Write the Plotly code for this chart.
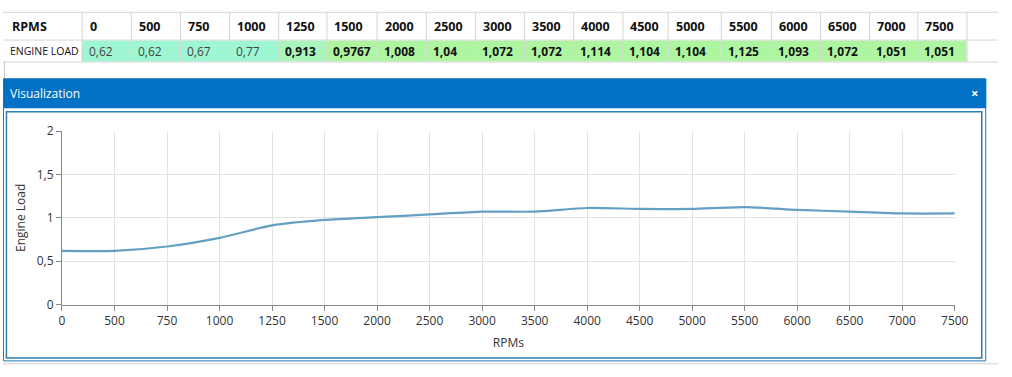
import plotly.graph_objects as go

# ---------------- data ----------------
rpms = [0, 500, 750, 1000, 1250, 1500, 2000, 2500, 3000, 3500,
        4000, 4500, 5000, 5500, 6000, 6500, 7000, 7500]
engine_load = [0.62, 0.62, 0.67, 0.77, 0.913, 0.9767, 1.008, 1.04, 1.072, 1.072,
               1.114, 1.104, 1.104, 1.125, 1.093, 1.072, 1.051, 1.051]
row_header = "RPMS"
row_label = "ENGINE LOAD"
panel_title = "Visualization"
x_title = "RPMs"
y_title = "Engine Load"

# ---------------- layout helpers ----------------
W, H = 1012, 377
FONT = "Segoe UI, Open Sans, sans-serif"


def px(x):
    return x / W


def py(y):
    return 1 - y / H


col_edges = [0, 80, 130, 180, 230, 280, 329, 380, 430, 480, 530, 580, 630,
             676, 730, 781, 831, 881, 930, 980, 1012]
row_top, row_mid, row_bot = 3, 32, 55

shapes = []
annotations = []


def fill_for(v):
    if v < 0.8:
        return "#9ef6d3"
    if v < 0.95:
        return "#a8f6bb"
    return "#adf5a1"


# cell fills
for i, v in enumerate(engine_load):
    x0, x1 = col_edges[i + 1], col_edges[i + 2]
    shapes.append(dict(type="rect", xref="paper", yref="paper",
                       x0=px(x0), x1=px(x1), y0=py(row_bot), y1=py(row_mid + 1),
                       fillcolor=fill_for(v), line=dict(width=0), layer="below"))

# table grid lines
for yy in (row_top, row_mid, row_bot):
    shapes.append(dict(type="line", xref="paper", yref="paper",
                       x0=0, x1=1, y0=py(yy + 0.5), y1=py(yy + 0.5),
                       line=dict(color="#d6d6d6", width=1)))
for xe in col_edges[1:-1]:
    shapes.append(dict(type="line", xref="paper", yref="paper",
                       x0=px(xe + 0.5), x1=px(xe + 0.5), y0=py(row_top), y1=py(row_bot),
                       line=dict(color="#d6d6d6", width=1)))
shapes.append(dict(type="line", xref="paper", yref="paper",
                   x0=px(1.5), x1=px(1.5), y0=py(row_bot), y1=py(73),
                   line=dict(color="#c8c8c8", width=1)))

# table text
annotations.append(dict(xref="paper", yref="paper", x=px(7), y=py(18),
                        text="<b>" + row_header + "</b>", showarrow=False,
                        xanchor="left", yanchor="middle",
                        font=dict(family=FONT, size=12.5, color="#111")))
annotations.append(dict(xref="paper", yref="paper", x=px(5), y=py(44),
                        text=row_label, showarrow=False,
                        xanchor="left", yanchor="middle",
                        font=dict(family=FONT, size=10.5, color="#111")))
for i, (r, v) in enumerate(zip(rpms, engine_load)):
    x0 = col_edges[i + 1] + 6
    annotations.append(dict(xref="paper", yref="paper", x=px(x0), y=py(18),
                            text="<b>" + str(r) + "</b>", showarrow=False,
                            xanchor="left", yanchor="middle",
                            font=dict(family=FONT, size=12.5, color="#111")))
    s = str(v).replace(".", ",")
    if v >= 0.9:
        s = "<b>" + s + "</b>"
        col = "#111"
    else:
        col = "#444"
    annotations.append(dict(xref="paper", yref="paper", x=px(x0 - 1), y=py(44),
                            text=s, showarrow=False,
                            xanchor="left", yanchor="middle",
                            font=dict(family=FONT, size=12, color=col)))

# panel
shapes.append(dict(type="rect", xref="paper", yref="paper",
                   x0=px(0), x1=px(1000), y0=py(104), y1=py(73),
                   fillcolor="#0071c5", line=dict(width=0)))
shapes.append(dict(type="rect", xref="paper", yref="paper",
                   x0=px(0.5), x1=px(999.5), y0=py(368.5), y1=py(73),
                   fillcolor="rgba(0,0,0,0)", line=dict(color="#1f78b4", width=1)))
shapes.append(dict(type="rect", xref="paper", yref="paper",
                   x0=px(3.5), x1=px(995.5), y0=py(365.5), y1=py(107.5),
                   fillcolor="rgba(0,0,0,0)", line=dict(color="#2a7fae", width=1.5)))
shapes.append(dict(type="line", xref="paper", yref="paper",
                   x0=px(0), x1=px(1012), y0=py(371.5), y1=py(371.5),
                   line=dict(color="#d0d0d0", width=1)))
annotations.append(dict(xref="paper", yref="paper", x=px(5), y=py(89),
                        text=panel_title, showarrow=False,
                        xanchor="left", yanchor="middle",
                        font=dict(family=FONT, size=12, color="white")))
annotations.append(dict(xref="paper", yref="paper", x=px(988), y=py(88),
                        text="<b>×</b>", showarrow=False,
                        xanchor="center", yanchor="middle",
                        font=dict(family=FONT, size=13, color="white")))

# ---------------- figure ----------------
fig = go.Figure()
fig.add_trace(go.Scatter(
    x=[str(r) for r in rpms], y=engine_load, mode="lines",
    line=dict(color="#649fc4", width=2.2, shape="spline", smoothing=0.6),
    hoverinfo="skip", showlegend=False))

fig.update_layout(
    autosize=True,
    margin=dict(l=0, r=0, t=0, b=0),
    paper_bgcolor="white", plot_bgcolor="white",
    separators=", ",
    font=dict(family=FONT, size=12, color="#333"),
    shapes=shapes, annotations=annotations,
    xaxis=dict(
        type="category", domain=[px(60), px(968)], range=[0, len(rpms) - 1],
        showline=True, linecolor="#888", linewidth=1,
        ticks="outside", ticklen=5, tickcolor="#888",
        showgrid=True, gridcolor="#e2e2e2", gridwidth=1,
        tickfont=dict(family=FONT, size=12, color="#333"),
        title=dict(text=x_title, font=dict(family=FONT, size=12, color="#333"), standoff=10),
        zeroline=False, anchor="y",
    ),
    yaxis=dict(
        domain=[py(309.5), py(128)], range=[0, 2], dtick=0.5,
        showline=True, linecolor="#888", linewidth=1,
        ticks="outside", ticklen=5, tickcolor="#888",
        showgrid=True, gridcolor="#e2e2e2", gridwidth=1,
        tickfont=dict(family=FONT, size=12, color="#333"),
        title=dict(text=y_title, font=dict(family=FONT, size=12, color="#333"), standoff=8),
        zeroline=False, anchor="x",
    ),
)

fig.write_html(
    "out.html",
    config={"displayModeBar": False, "responsive": True},
    default_width="100vw", default_height="100vh",
    post_script=("document.documentElement.style.overflow='hidden';"
                 "document.body.style.margin='0px';document.body.style.overflow='hidden';"
                 "Plotly.Plots.resize(document.getElementById('{plot_id}'));"),
)
